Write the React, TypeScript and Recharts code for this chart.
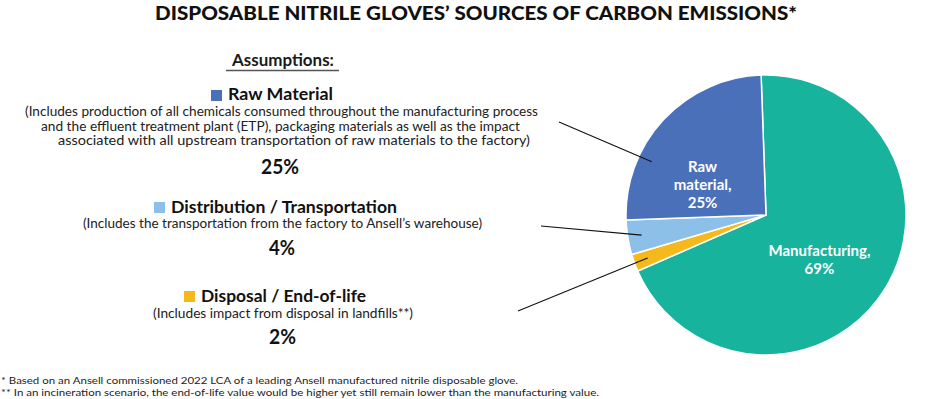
import React from "react";
import { PieChart, Pie, Cell } from "recharts";

// values
const categories = [
  "Manufacturing",
  "Disposal / End-of-life",
  "Distribution / Transportation",
  "Raw Material",
];
const shares = [69, 2, 4, 25];
const insideLabels = [["Manufacturing,"], [], [], ["Raw", "material,"]];
const legendOrder = ["Raw Material", "Distribution / Transportation", "Disposal / End-of-life"];
const descriptions: Record<string, string[]> = {
  "Raw Material": [
    "(Includes production of all chemicals consumed throughout the manufacturing process",
    "and the effluent treatment plant (ETP), packaging materials as well as the impact",
    "associated with all upstream transportation of raw materials to the factory)",
  ],
  "Distribution / Transportation": [
    "(Includes the transportation from the factory to Ansell\u2019s warehouse)",
  ],
  "Disposal / End-of-life": ["(Includes impact from disposal in landfills**)"],
};
const title = "DISPOSABLE NITRILE GLOVES\u2019 SOURCES OF CARBON EMISSIONS*";
const footnotes = [
  "* Based on an Ansell commissioned 2022 LCA of a leading Ansell manufactured nitrile disposable glove.",
  "** In an incineration scenario, the end-of-life value would be higher yet still remain lower than the manufacturing value.",
];

const chartData = categories.map((name, i) => ({ name, value: shares[i] }));

// styling / placement
const FONT = "Lato, 'Open Sans', sans-serif";
const RAD = Math.PI / 180;

const sliceStyle: Record<string, { fill: string; shift: number; leaderFrom?: [number, number] }> = {
  Manufacturing: { fill: "#17b39d", shift: -8 },
  "Disposal / End-of-life": { fill: "#f5b91b", shift: 0, leaderFrom: [518, 311] },
  "Distribution / Transportation": { fill: "#8cc0e8", shift: 0, leaderFrom: [541, 226] },
  "Raw Material": { fill: "#4a70b9", shift: 18, leaderFrom: [559, 122] },
};

// left-hand block layout: [x, baseline, textLength]
const legendLayout: Record<
  string,
  { box: [number, number]; head: [number, number, number]; desc: [number, number, number][]; pct: [number, number, number] }
> = {
  "Raw Material": {
    box: [211, 90],
    head: [228, 100, 105],
    desc: [
      [25, 116, 513],
      [41, 131, 479],
      [58, 145, 472],
    ],
    pct: [261, 174, 38],
  },
  "Distribution / Transportation": {
    box: [154, 202],
    head: [171, 213, 226],
    desc: [[83, 228, 399]],
    pct: [269, 255, 26],
  },
  "Disposal / End-of-life": {
    box: [184, 291],
    head: [201, 302, 165],
    desc: [[153, 318, 260]],
    pct: [269, 344, 27],
  },
};

function renderSliceLabel(props: any) {
  const { cx, cy, midAngle, outerRadius, index, value } = props;
  const name = categories[index];
  const st = sliceStyle[name];
  const a = (midAngle + st.shift) * RAD;
  const parts: React.ReactNode[] = [];
  if (st.leaderFrom) {
    const r = outerRadius * 0.9;
    parts.push(
      <line
        key="leader"
        x1={st.leaderFrom[0]}
        y1={st.leaderFrom[1]}
        x2={cx + r * Math.cos(a)}
        y2={cy - r * Math.sin(a)}
        stroke="#111"
        strokeWidth={1.1}
      />
    );
  }
  const lines = insideLabels[index];
  if (lines.length) {
    const all = [...lines, `${value}%`];
    const r = outerRadius * 0.5;
    const x = cx + r * Math.cos(a);
    const y = cy - r * Math.sin(a);
    all.forEach((t, i) => {
      parts.push(
        <text
          key={"t" + i}
          x={x}
          y={y + (i - (all.length - 1) / 2) * 18 + 5}
          textAnchor="middle"
          fill="#fff"
          fontFamily={FONT}
          fontWeight={700}
          fontSize={15}
        >
          {t}
        </text>
      );
    });
  }
  return <g key={"lbl" + index}>{parts}</g>;
}

export default function App() {
  return (
    <div style={{ position: "absolute", left: 0, top: 0, width: 927, height: 399, background: "#fff" }}>
      <PieChart width={927} height={399} margin={{ top: 0, right: 0, bottom: 0, left: 0 }}>
        <Pie
          data={chartData}
          dataKey="value"
          nameKey="name"
          cx={766}
          cy={215}
          outerRadius={140}
          startAngle={92}
          endAngle={-268}
          stroke="#fff"
          strokeWidth={1.5}
          label={renderSliceLabel}
          labelLine={false}
          isAnimationActive={false}
        >
          {chartData.map((d) => (
            <Cell key={d.name} fill={sliceStyle[d.name].fill} />
          ))}
        </Pie>
      </PieChart>
      <svg
        width={927}
        height={399}
        style={{ position: "absolute", left: 0, top: 0, pointerEvents: "none" }}
      >
        <text x={155} y={20} fontFamily={FONT} fontWeight={900} fontSize={19} fill="#111" textLength={642} lengthAdjust="spacingAndGlyphs">
          {title}
        </text>
        <text x={232} y={66} fontFamily={FONT} fontWeight={700} fontSize={17} fill="#1a1a1a" textLength={102} lengthAdjust="spacingAndGlyphs">
          Assumptions:
        </text>
        <line x1={226} x2={339} y1={70.5} y2={70.5} stroke="#555" strokeWidth={1.5} />
        {legendOrder.map((name) => {
          const L = legendLayout[name];
          const value = shares[categories.indexOf(name)];
          return (
            <g key={name}>
              <rect x={L.box[0]} y={L.box[1]} width={11} height={11} fill={sliceStyle[name].fill} />
              <text x={L.head[0]} y={L.head[1]} fontFamily={FONT} fontWeight={700} fontSize={17} fill="#111" textLength={L.head[2]} lengthAdjust="spacingAndGlyphs">
                {name}
              </text>
              {descriptions[name].map((line, i) => (
                <text key={i} x={L.desc[i][0]} y={L.desc[i][1]} fontFamily={FONT} fontSize={12.5} fill="#222" textLength={L.desc[i][2]} lengthAdjust="spacingAndGlyphs">
                  {line}
                </text>
              ))}
              <text x={L.pct[0]} y={L.pct[1]} fontFamily={FONT} fontWeight={700} fontSize={20} fill="#111" textLength={L.pct[2]} lengthAdjust="spacingAndGlyphs">
                {value}%
              </text>
            </g>
          );
        })}
        <text x={1} y={384} fontFamily={FONT} fontSize={10} fill="#222" textLength={517} lengthAdjust="spacingAndGlyphs">
          {footnotes[0]}
        </text>
        <text x={1} y={396} fontFamily={FONT} fontSize={10} fill="#222" textLength={598} lengthAdjust="spacingAndGlyphs">
          {footnotes[1]}
        </text>
      </svg>
    </div>
  );
}
